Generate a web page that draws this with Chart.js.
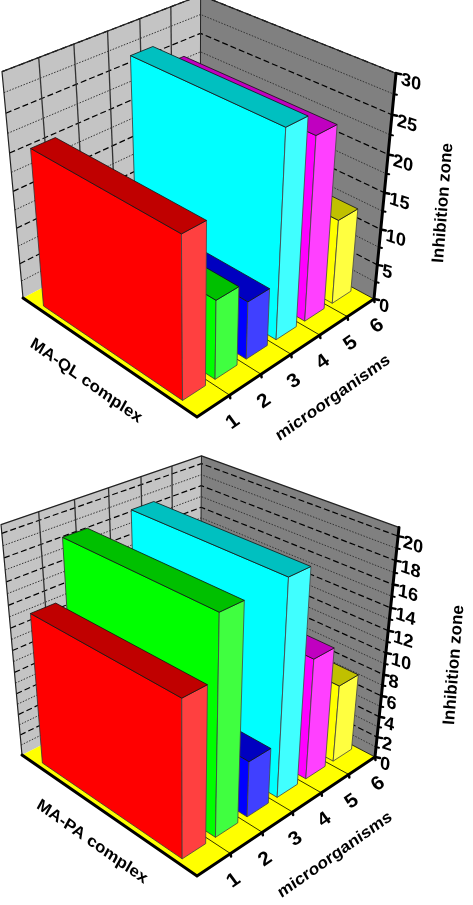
<!DOCTYPE html>
<html>
<head>
<meta charset="utf-8">
<script src="https://cdn.jsdelivr.net/npm/chart.js@4/dist/chart.umd.js"></script>
<style>
html, body { margin: 0; padding: 0; background: #fff; }
canvas { position: absolute; left: 0; }
</style>
</head>
<body>
<canvas id="chartQL" width="473" height="450" style="top:0"></canvas>
<canvas id="chartPA" width="473" height="455" style="top:450px"></canvas>
<script>
const categories = ['1', '2', '3', '4', '5', '6'];
const valuesQL = [21.5, 10.8, 8, 27.7, 24.8, 11.8];
const valuesPA = [13.9, 19.1, 5.2, 19.3, 11.2, 7.3];
const ticksQL = [0, 5, 10, 15, 20, 25, 30];
const ticksPA = [0, 2, 4, 6, 8, 10, 12, 14, 16, 18, 20];
const frontColors = ['#ff0000', '#00ff00', '#0000ff', '#00ffff', '#ff00ff', '#ffff00'];
const topColors = ['#c00000', '#00c000', '#0000c0', '#00c0c0', '#c000c0', '#c0c000'];
const sideColors = ['#ff4040', '#40ff40', '#4040ff', '#40ffff', '#ff40ff', '#ffff40'];

const FONT = '"Liberation Sans", Arial, sans-serif';

// works out the perspective from the corners of the box
function makeView(p) {
    const { F, L, R, B, TL, TR } = p;
    const a1 = R[0] - B[0], b1 = L[0] - B[0], c1 = F[0] - B[0];
    const a2 = R[1] - B[1], b2 = L[1] - B[1], c2 = F[1] - B[1];
    const det = a1 * b2 - a2 * b1;
    const wx = (c1 * b2 - c2 * b1) / det;
    const wy = (a1 * c2 - a2 * c1) / det;
    const dz = (wx * R[0] - wy * L[0] - TR[0] * wx + TL[0] * wy) / (TR[0] - TL[0]);
    const zx = TR[0] * (wx + dz) - wx * R[0];
    const zy = (TR[1] * (wx + dz) - wx * R[1] + TL[1] * (wy + dz) - wy * L[1]) / 2;
    return function (c, d, v) {
        const X = F[0] + c * (wx * R[0] - F[0]) + d * (wy * L[0] - F[0]) + v * zx;
        const Y = F[1] + c * (wx * R[1] - F[1]) + d * (wy * L[1] - F[1]) + v * zy;
        const W = 1 + c * (wx - 1) + d * (wy - 1) + v * dz;
        return [X / W, Y / W];
    };
}

function poly(ctx, pts, fill, stroke, width) {
    ctx.beginPath();
    pts.forEach((p, i) => i ? ctx.lineTo(p[0], p[1]) : ctx.moveTo(p[0], p[1]));
    if (fill) {
        ctx.closePath();
        ctx.fillStyle = fill;
        ctx.fill();
    }
    if (stroke) {
        ctx.strokeStyle = stroke;
        ctx.lineWidth = width;
        ctx.stroke();
    }
}

function line(ctx, pts, color, width, dash) {
    ctx.save();
    ctx.setLineDash(dash || []);
    poly(ctx, pts, null, color, width);
    ctx.restore();
}

function skewText(ctx, text, x, y, m, font, align) {
    ctx.save();
    ctx.translate(x, y);
    ctx.transform(m[0], m[1], m[2], m[3], 0, 0);
    ctx.font = font;
    ctx.fillStyle = '#000';
    ctx.textAlign = align || 'center';
    ctx.textBaseline = 'middle';
    ctx.fillText(text, 0, 0);
    ctx.restore();
}

const box3d = {
    id: 'box3d',
    beforeDatasetsDraw(chart, args, o) {
        const ctx = chart.ctx, project = makeView(o.corners);
        const xs = chart.scales.x, ys = chart.scales.y;
        const vOf = value => (ys.bottom - ys.getPixelForValue(value)) / ys.height;
        const cOf = px => (px - xs.left) / xs.width;
        const band = xs.width / categories.length;
        ctx.save();
        ctx.lineJoin = 'round';

        // walls and floor
        poly(ctx, [project(0, 1, 0), project(1, 1, 0), project(1, 1, 1), project(0, 1, 1)], '#c4c4c4');
        poly(ctx, [project(1, 1, 0), project(1, 0, 0), project(1, 0, 1), project(1, 1, 1)], '#808080');
        poly(ctx, [project(0, 0, 0), project(1, 0, 0), project(1, 1, 0), project(0, 1, 0)], '#ffff00');

        // grid on the walls
        ys.ticks.forEach((t, i) => {
            const wall = v => [project(0, 1, v), project(1, 1, v), project(1, 0, v)];
            if (t.value > 0) line(ctx, wall(vOf(t.value)), '#000', 1.2, [6, 3]);
            const next = ys.ticks[i + 1];
            if (next) line(ctx, wall(vOf((t.value + next.value) / 2)), '#333', 1, [1.5, 1.5]);
        });
        categories.forEach((c, i) => {
            const cc = cOf(xs.getPixelForValue(i) + band / 2);
            if (i < categories.length - 1) {
                line(ctx, [project(cc, 1, 0), project(cc, 1, 1)], '#333', 1.3);
            }
            line(ctx, [project(cc, 0, 0), project(cc, 1, 0)], '#000', 0.8);
        });
        line(ctx, [project(0, 1, 0), project(0, 1, 1), project(1, 1, 1), project(1, 0, 1)], '#222', 1.2);
        line(ctx, [project(1, 1, 1), project(1, 1, 0)], '#222', 1);
        ctx.restore();
    },
    beforeDatasetDraw(chart, args, o) {
        const ctx = chart.ctx, project = makeView(o.corners);
        const xs = chart.scales.x, ys = chart.scales.y;
        const bars = chart.getDatasetMeta(args.index).data;
        const d0 = o.depth[0], d1 = o.depth[1];
        ctx.save();
        ctx.lineJoin = 'round';
        // back to front so the nearer boxes cover the others
        for (let i = bars.length - 1; i >= 0; i--) {
            const el = bars[i];
            const c0 = (el.x - el.width / 2 - xs.left) / xs.width;
            const c1 = (el.x + el.width / 2 - xs.left) / xs.width;
            const v = (ys.bottom - el.y) / ys.height;
            poly(ctx, [project(c0, d1, 0), project(c0, d0, 0), project(c0, d0, v), project(c0, d1, v)], frontColors[i], '#333', 0.8);
            poly(ctx, [project(c0, d0, 0), project(c1, d0, 0), project(c1, d0, v), project(c0, d0, v)], sideColors[i], '#444', 0.8);
            poly(ctx, [project(c0, d0, v), project(c1, d0, v), project(c1, d1, v), project(c0, d1, v)], topColors[i], '#111', 0.8);
        }
        ctx.restore();
        return false;
    },
    afterDatasetsDraw(chart, args, o) {
        const ctx = chart.ctx, project = makeView(o.corners);
        const xs = chart.scales.x, ys = chart.scales.y;
        const vOf = value => (ys.bottom - ys.getPixelForValue(value)) / ys.height;
        const cOf = px => (px - xs.left) / xs.width;
        const band = xs.width / categories.length;
        ctx.save();
        ctx.lineCap = 'round';

        // thick axes
        line(ctx, [project(0, 1, 0), project(0, 0, 0), project(1, 0, 0), project(1, 0, 1)], '#000', 3);

        // value axis
        const tickFont = 'bold 18px ' + FONT;
        ys.ticks.forEach((t, i) => {
            const p = project(1, 0, vOf(t.value));
            line(ctx, [p, [p[0] + 5, p[1] + 1]], '#000', 2.5);
            skewText(ctx, String(t.value), p[0] + 5, p[1] + 6, [1, 0.33, -0.1, 1], tickFont, 'left');
            const next = ys.ticks[i + 1];
            if (next) {
                const m = project(1, 0, vOf((t.value + next.value) / 2));
                line(ctx, [m, [m[0] + 3, m[1] + 0.6]], '#000', 2);
            }
        });

        // category axis
        categories.forEach((c, i) => {
            const p = project(cOf(xs.getPixelForValue(i) + band / 2), 0, 0);
            line(ctx, [p, [p[0] + 0.5, p[1] + 3]], '#000', 2.5);
            skewText(ctx, c, p[0] + 3, p[1] + 27, [0.82, -0.57, 0.55, 0.75], 'bold 21px ' + FONT);
        });

        // axis titles
        const titleFont = 'bold 17.5px ' + FONT;
        skewText(ctx, o.depthTitle, o.depthPos[0], o.depthPos[1], [0.82, 0.58, -0.45, 0.8], titleFont);
        skewText(ctx, 'microorganisms', o.catPos[0], o.catPos[1], [0.82, -0.58, 0.45, 0.8], titleFont);
        const a = -85.5 * Math.PI / 180;
        skewText(ctx, 'Inhibition zone', o.valPos[0], o.valPos[1], [Math.cos(a), Math.sin(a), -Math.sin(a), Math.cos(a)], 'bold 17px ' + FONT);
        ctx.restore();
    }
};

function makeChart(id, values, ticks, maxValue, box) {
    return new Chart(document.getElementById(id), {
        type: 'bar',
        data: {
            labels: categories,
            datasets: [{
                data: values,
                backgroundColor: frontColors,
                barPercentage: 0.7,
                categoryPercentage: 1
            }]
        },
        options: {
            responsive: false,
            animation: false,
            layout: { padding: 0 },
            plugins: { legend: { display: false }, tooltip: { enabled: false }, box3d: box },
            scales: {
                x: { type: 'category', display: false, offset: true },
                y: {
                    type: 'linear', display: false, min: 0, max: maxValue,
                    afterBuildTicks(scale) { scale.ticks = ticks.map(v => ({ value: v })); }
                }
            }
        },
        plugins: [box3d]
    });
}

makeChart('chartQL', valuesQL, ticksQL, 30, {
    corners: { F: [197, 417], L: [23, 298], R: [374, 299], B: [200, 205], TL: [2, 72], TR: [396, 73] },
    depth: [0.1, 0.9],
    depthTitle: 'MA-QL complex',
    depthPos: [86, 381],
    catPos: [333, 398],
    valPos: [443, 203]
});

makeChart('chartPA', valuesPA, ticksPA, 20.7, {
    corners: { F: [197, 426], L: [22, 305], R: [375, 307], B: [200, 215], TL: [1, 76], TR: [399, 76] },
    depth: [0.1, 0.9],
    depthTitle: 'MA-PA complex',
    depthPos: [92, 392],
    catPos: [335, 405],
    valPos: [454, 215]
});
</script>
</body>
</html>
